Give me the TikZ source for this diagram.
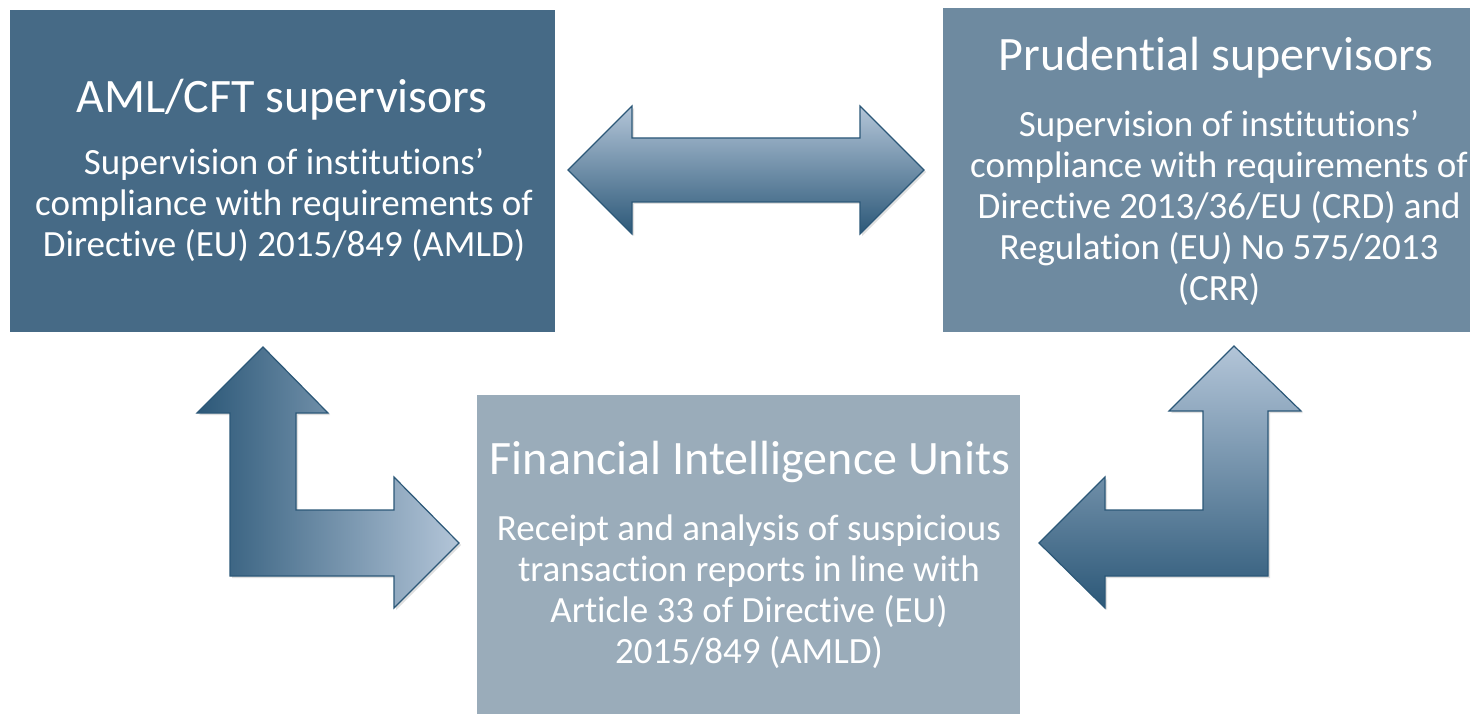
\documentclass[tikz,border=0pt]{standalone}
\usepackage{fontspec}
\setmainfont{Carlito}[Ligatures=NoCommon]
\usetikzlibrary{shadows}
\definecolor{amlc}{HTML}{466A86}
\definecolor{prc}{HTML}{6E8AA0}
\definecolor{fiuc}{HTML}{9AACBA}
\definecolor{arrdark}{HTML}{2C5878}
\definecolor{arrlight}{HTML}{B3C5D8}
\begin{document}
\begin{tikzpicture}[x=1pt,y=-1pt,
  boxstyle/.style={draw=none,inner sep=0pt},
  titletext/.style={text=white,font=\fontsize{48}{54}\selectfont,align=center},
  bodytext/.style={text=white,font=\fontsize{37}{41}\selectfont,align=center},
  arrowshape/.style={draw=arrdark,line width=1.2pt,line join=miter,
    drop shadow={opacity=0.25,shadow xshift=2pt,shadow yshift=-2pt}}
]
\useasboundingbox (0,0) rectangle (1470,714);
\fill[white] (0,0) rectangle (1470,714);
% boxes
\fill[amlc] (10,10) rectangle (555,332);
\node[boxstyle] (aml) at (282.5,171) {};
\fill[prc] (943,8) rectangle (1470,332);
\node[boxstyle] (pru) at (1206,170) {};
\fill[fiuc] (477,395) rectangle (1020,714);
\node[boxstyle] (fiu) at (748,554) {};
% texts
\node[titletext] (amltitle) at (282,100) {AML/CFT supervisors};
\node[bodytext] (amlbody) at (284,205) {Supervision of institutions’\\compliance with requirements of\\Directive (EU) 2015/849 (AMLD)};
\node[titletext] (prutitle) at (1216,58) {Prudential supervisors};
\node[bodytext] (prubody) at (1219,208) {Supervision of institutions’\\compliance with requirements of\\Directive 2013/36/EU (CRD) and\\Regulation (EU) No 575/2013\\(CRR)};
\node[titletext] (fiutitle) at (750,462) {Financial Intelligence Units};
\node[bodytext] (fiubody) at (749,592) {Receipt and analysis of suspicious\\transaction reports in line with\\Article 33 of Directive (EU)\\2015/849 (AMLD)};
% double arrow
\draw[arrowshape,top color=arrlight,bottom color=arrdark]
  (568,170) -- (632,106) -- (632,138) -- (860,138) -- (860,106) -- (924,170)
  -- (860,234) -- (860,202) -- (632,202) -- (632,234) -- cycle;
% left L arrow
\draw[arrowshape,left color=arrdark,right color=arrlight]
  (263,347) -- (328,413) -- (296,413) -- (296,510) -- (394,510) -- (394,477)
  -- (459,543) -- (394,608) -- (394,576) -- (230,576) -- (230,413) -- (197,413) -- cycle;
% right L arrow
\draw[arrowshape,top color=arrlight,bottom color=arrdark]
  (1234,346) -- (1301,411) -- (1268,411) -- (1268,576) -- (1105,576) -- (1105,608)
  -- (1039,543) -- (1105,477) -- (1105,510) -- (1203,510) -- (1203,411) -- (1169,411) -- cycle;
\end{tikzpicture}
\end{document}
